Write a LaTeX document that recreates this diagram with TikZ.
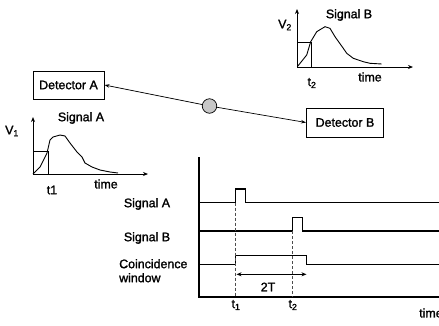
\documentclass[tikz,border=0pt]{standalone}
\usepackage{fontspec}
\setmainfont[FakeBold=1.5]{Liberation Sans}
\usetikzlibrary{arrows.meta}
\newcommand{\sbs}[1]{\textsubscript{#1}}
\begin{document}
\begin{tikzpicture}[x=1pt,y=-1pt,
  lbl/.style={font=\fontsize{12.4}{14}\selectfont, inner sep=0pt},
  detbox/.style={draw, line width=1pt, minimum height=28pt, inner sep=0pt, font=\fontsize{12.4}{14}\selectfont},
  axisline/.style={line width=0.9pt, -{Stealth[length=5pt,width=4pt]}},
  sigline/.style={line width=1.1pt},
  thin/.style={line width=0.5pt},
  curve/.style={line width=0.9pt},
  guide/.style={line width=0.5pt, gray!60!black, densely dashed},
  partarrow/.style={line width=0.7pt, -{Stealth[length=5pt,width=3.5pt]}}
]
\useasboundingbox (0,0) rectangle (439,325);

% detectors and particle
\node[detbox, minimum width=71pt] (detA) at (68.5,85) {Detector A};
\node[detbox, minimum width=77pt, minimum height=29pt] (detB) at (345,122.5) {Detector B};
\node[circle, draw, line width=0.7pt, fill=black!22, minimum size=14.5pt, inner sep=0pt] (part) at (209.5,106) {};
\draw[partarrow] (part) -- (detA.east);
\draw[partarrow] (part) -- (detB.west);

% Signal B graph
\coordinate (oB) at (297,67);
\coordinate (yB) at (297,9);
\coordinate (xB) at (413,67);
\draw[axisline] (oB) -- (yB);
\draw[axisline] (oB) -- (xB);
\node[lbl, anchor=east] (v2) at (292,25) {V\sbs{2}};
\node[lbl] (sigB) at (349,15) {Signal B};
\node[lbl] (timeB) at (370,77) {time};
\node[lbl] (t2B) at (312,83) {t\sbs{2}};
\coordinate (thB) at (311,42.7);
\coordinate (thBl) at (297,42.7);
\coordinate (thBb) at (311,67);
\draw[thin] (thBl) -- (thB) -- (thBb);
\draw[curve] (297.3,66.7) -- (306.7,55) -- (310.7,41.7) -- (316.7,31.7) -- (325,26.7) -- (330,28.3)
  -- (335,36.7) -- (343.3,48.3) -- (346.7,53.3) -- (353.3,58.3) -- (363.3,61.7) -- (370,63.3) -- (381.7,64);

% Signal A graph
\coordinate (oA) at (33,174);
\coordinate (yA) at (33,117);
\coordinate (xA) at (148,174);
\draw[axisline] (oA) -- (yA);
\draw[axisline] (oA) -- (xA);
\node[lbl, anchor=east] (v1) at (19,131) {V\sbs{1}};
\node[lbl] (sigA) at (81,118) {Signal A};
\node[lbl] (timeA) at (106,184) {time};
\node[lbl] (t1A) at (52,190) {t1};
\coordinate (thA) at (48,151.7);
\coordinate (thAl) at (33,151.7);
\coordinate (thAb) at (48,174);
\draw[thin] (thAl) -- (thA) -- (thAb);
\draw[curve] (33,174) -- (40,167) -- (47,153) -- (50,140) -- (53,137) -- (60,135) -- (65,136)
  -- (70,143) -- (77,152) -- (82,157) -- (85,163) -- (92,167) -- (100,170) -- (110,172) -- (118,173);

% timing diagram
\coordinate (ax0) at (199,297);
\coordinate (axT) at (199,157);
\coordinate (axR) at (439,297);
\draw[line width=1.5pt] (axT) -- (ax0) -- (axR);
\draw[sigline] (199,202.7) -- (235.7,202.7) -- (235.7,189) -- (245.7,189) -- (245.7,202.7) -- (439,202.7);
\draw[sigline] (199,231) -- (292.7,231) -- (292.7,217.3) -- (302.3,217.3) -- (302.3,231) -- (439,231);
\draw[sigline] (199,264.3) -- (235.7,264.3) -- (235.7,255.7) -- (306.7,255.7) -- (306.7,264.3) -- (439,264.3);
\coordinate (g1t) at (235.7,202.7);
\coordinate (g1b) at (235.7,297);
\coordinate (g2t) at (292.7,231);
\coordinate (g2b) at (292.7,297);
\draw[guide] (g1t) -- (g1b);
\draw[guide] (g2t) -- (g2b);
\coordinate (w1) at (236.5,274.3);
\coordinate (w2) at (306.5,274.3);
\draw[line width=1.1pt, {Stealth[length=5pt,width=4pt]}-{Stealth[length=5pt,width=4pt]}] (w1) -- (w2);
\node[lbl] (twoT) at (268,287) {2T};
\node[lbl] (t1) at (236,305) {t\sbs{1}};
\node[lbl] (t2) at (293,305) {t\sbs{2}};
\node[lbl, anchor=west] (timeC) at (419,313) {time};

\node[lbl] (lsa) at (147,204) {Signal A};
\node[lbl] (lsb) at (147,238) {Signal B};
\node[lbl, align=left, anchor=north west] (lcw) at (119,259) {Coincidence\\window};
\end{tikzpicture}
\end{document}
